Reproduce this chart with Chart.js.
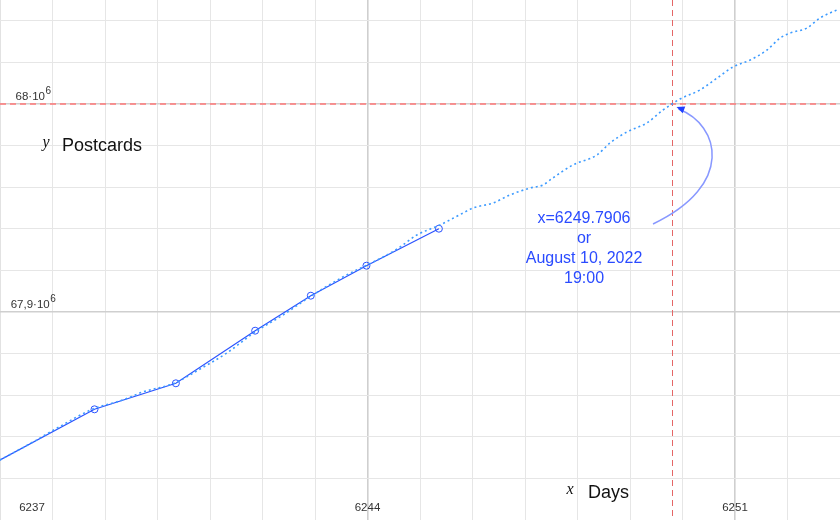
<!DOCTYPE html>
<html>
<head>
<meta charset="utf-8">
<script src="https://cdn.jsdelivr.net/npm/chart.js@4/dist/chart.umd.min.js"></script>
<style>
  html, body { margin: 0; padding: 0; background: #ffffff; }
  #wrap { width: 840px; height: 520px; }
</style>
</head>
<body>
<div id="wrap"><canvas id="c" width="840" height="520"></canvas></div>
<script>
// ---- data ----
const obsDays = [6236.5, 6238.80, 6240.35, 6241.86, 6242.92, 6243.98, 6245.36];
const obsPostcards = [67822070, 67853220, 67865720, 67891010, 67907840, 67922260, 67940050];

const fitDays = [6237.00, 6237.63, 6238.09, 6238.77, 6239.34, 6239.72, 6240.33, 6240.81, 6241.32, 6241.86,
  6242.39, 6242.90, 6243.53, 6243.99, 6244.37, 6244.62, 6244.94, 6245.38, 6245.82, 6246.01,
  6246.39, 6246.71, 6247.10, 6247.34, 6247.53, 6247.91, 6248.37, 6248.62, 6248.94, 6249.32,
  6249.63, 6249.80, 6249.95, 6250.33, 6250.66, 6250.96, 6251.29, 6251.61, 6251.86, 6252.05,
  6252.37, 6252.62, 6252.98];
const fitPostcards = [67828850, 67837500, 67844230, 67853370, 67857690, 67861540, 67865870, 67872600, 67880290, 67890380,
  67898560, 67907210, 67916830, 67922600, 67927400, 67931250, 67937020, 67941830, 67947600, 67950000,
  67952400, 67956250, 67959620, 67961060, 67964420, 67970670, 67975480, 67981250, 67986540, 67990870,
  67997120, 68000000, 68002400, 68006730, 68012500, 68017790, 68021150, 68025960, 68031730, 68034130,
  68036540, 68041350, 68045670];

const xTickValues = [6237, 6244, 6251];
const xTickLabels = ['6237', '6244', '6251'];
const yTickValues = [68000000, 67900000];
const yTickMantissa = ['68', '67,9'];
const yTickExponent = ['6', '6'];

const targetValue = 68000000;
const crossingDay = 6249.7906;
const annotationLines = ['x=6249.7906', 'or', 'August 10, 2022', '19:00'];
const xAxisName = 'Days';
const yAxisName = 'Postcards';

const xMin = 6237, xMax = 6253, xStep = 1, xMajorEvery = 7;
const yMin = 67800000, yMax = 68050000, yStep = 20000, yMajorEvery = 100000;

// ---- helpers ----
function buildRange(a, b, s) { const out = []; for (let v = a; v <= b + 1e-9; v += s) out.push(v); return out; }
const xGridVals = buildRange(xMin, xMax, xStep);
const yGridVals = buildRange(yMin + yStep, yMax - 1, yStep);

const SANS = '"Liberation Sans", Arial, Helvetica, sans-serif';
const SERIF = '"Liberation Serif", "Times New Roman", serif';

const overlay = {
  id: 'overlay',
  beforeDatasetsDraw(chart) {
    const {ctx, chartArea: a, scales: {x, y}} = chart;
    ctx.save();
    const yp = y.getPixelForValue(targetValue);
    ctx.strokeStyle = 'rgba(255,120,120,0.75)';
    ctx.lineWidth = 2;
    ctx.setLineDash([6, 4]);
    ctx.beginPath(); ctx.moveTo(a.left, yp); ctx.lineTo(a.right, yp); ctx.stroke();
    const xp = x.getPixelForValue(crossingDay);
    ctx.strokeStyle = '#e46666';
    ctx.lineWidth = 1;
    ctx.setLineDash([6, 4]);
    ctx.beginPath(); ctx.moveTo(Math.round(xp) + 0.5, a.top); ctx.lineTo(Math.round(xp) + 0.5, a.bottom); ctx.stroke();
    ctx.restore();
  },
  afterDraw(chart) {
    const {ctx, scales: {x, y}} = chart;
    ctx.save();
    ctx.setLineDash([]);
    ctx.fillStyle = '#333333';
    yTickValues.forEach((v, i) => {
      const py = y.getPixelForValue(v);
      ctx.font = '11.5px ' + SANS;
      const base = yTickMantissa[i] + '\u00B710';
      const w1 = ctx.measureText(base).width;
      ctx.font = '10px ' + SANS;
      const w2 = ctx.measureText(yTickExponent[i]).width;
      const left = 33 - (w1 + w2) / 2;
      ctx.textAlign = 'left'; ctx.textBaseline = 'alphabetic';
      ctx.font = '11.5px ' + SANS;
      ctx.fillText(base, left, py - 4);
      ctx.font = '10px ' + SANS;
      ctx.fillText(yTickExponent[i], left + w1 + 0.5, py - 10);
    });
    ctx.font = '11.5px ' + SANS;
    ctx.textAlign = 'center'; ctx.textBaseline = 'middle';
    xTickValues.forEach((v, i) => {
      const px = Math.max(x.getPixelForValue(v), 32);
      ctx.fillText(xTickLabels[i], px, 508);
    });
    ctx.fillStyle = '#111111';
    ctx.textBaseline = 'middle';
    ctx.font = 'italic 16px ' + SERIF;
    ctx.textAlign = 'center';
    ctx.fillText('y', 46, 143);
    ctx.fillText('x', 570, 490);
    ctx.font = '18px ' + SANS;
    ctx.textAlign = 'left';
    ctx.fillText(yAxisName, 62, 146);
    ctx.fillText(xAxisName, 588, 493);

    const ax = x.getPixelForValue(crossingDay);
    const ay = y.getPixelForValue(targetValue);
    ctx.fillStyle = '#2a4bff';
    ctx.font = '16px ' + SANS;
    ctx.textAlign = 'center';
    annotationLines.forEach((t, i) => ctx.fillText(t, ax - 87.5, ay + 115 + i * 20));
    const p0 = [ax - 18.5, ay + 120], p1 = [ax + 63.5, ay + 81], p2 = [ax + 48.5, ay + 21], p3 = [ax + 7, ay + 5];
    ctx.strokeStyle = '#8898ff';
    ctx.lineWidth = 1.5;
    ctx.beginPath();
    ctx.moveTo(p0[0], p0[1]);
    ctx.bezierCurveTo(p1[0], p1[1], p2[0], p2[1], p3[0], p3[1]);
    ctx.stroke();
    const ang = Math.atan2(p3[1] - p2[1], p3[0] - p2[0]);
    const tip = [ax + 5, ay + 3];
    const L = 8, W = 3.5;
    ctx.fillStyle = '#2040ff';
    ctx.beginPath();
    ctx.moveTo(tip[0], tip[1]);
    ctx.lineTo(tip[0] - L * Math.cos(ang) + W * Math.sin(ang), tip[1] - L * Math.sin(ang) - W * Math.cos(ang));
    ctx.lineTo(tip[0] - L * Math.cos(ang) - W * Math.sin(ang), tip[1] - L * Math.sin(ang) + W * Math.cos(ang));
    ctx.closePath();
    ctx.fill();
    ctx.restore();
  }
};

new Chart(document.getElementById('c'), {
  type: 'scatter',
  data: {
    datasets: [
      {
        label: 'fit',
        data: fitDays.map((d, i) => ({x: d, y: fitPostcards[i]})),
        showLine: true,
        borderColor: '#3d9bff',
        borderWidth: 1.6,
        borderDash: [2, 3],
        pointRadius: 0,
        tension: 0.35,
        cubicInterpolationMode: 'monotone'
      },
      {
        label: 'observed',
        data: obsDays.map((d, i) => ({x: d, y: obsPostcards[i]})),
        showLine: true,
        borderColor: '#2a52ff',
        borderWidth: 1.2,
        pointRadius: 3.5,
        pointBorderWidth: 1,
        pointBorderColor: '#2a52ff',
        pointBackgroundColor: 'rgba(0,0,0,0)',
        tension: 0
      }
    ]
  },
  options: {
    responsive: false,
    animation: false,
    devicePixelRatio: 1,
    layout: { padding: 0, autoPadding: false },
    plugins: { legend: { display: false }, tooltip: { enabled: false } },
    scales: {
      x: {
        type: 'linear', min: xMin, max: xMax,
        afterBuildTicks: s => { s.ticks = xGridVals.map(v => ({value: v})); },
        ticks: { display: false },
        border: { display: false },
        grid: {
          drawTicks: false,
          color: c => (Math.round(c.tick.value - xMin) % xMajorEvery === 0) ? '#cfcfcf' : '#e6e6e6',
          lineWidth: c => (Math.round(c.tick.value - xMin) % xMajorEvery === 0) ? 1.6 : 1
        }
      },
      y: {
        type: 'linear', min: yMin, max: yMax,
        afterBuildTicks: s => { s.ticks = yGridVals.map(v => ({value: v})); },
        ticks: { display: false },
        border: { display: false },
        grid: {
          drawTicks: false,
          color: c => (Math.round(c.tick.value - yMin) % yMajorEvery === 0) ? '#cfcfcf' : '#e6e6e6',
          lineWidth: c => (Math.round(c.tick.value - yMin) % yMajorEvery === 0) ? 1.6 : 1
        }
      }
    }
  },
  plugins: [overlay]
});
</script>
</body>
</html>
